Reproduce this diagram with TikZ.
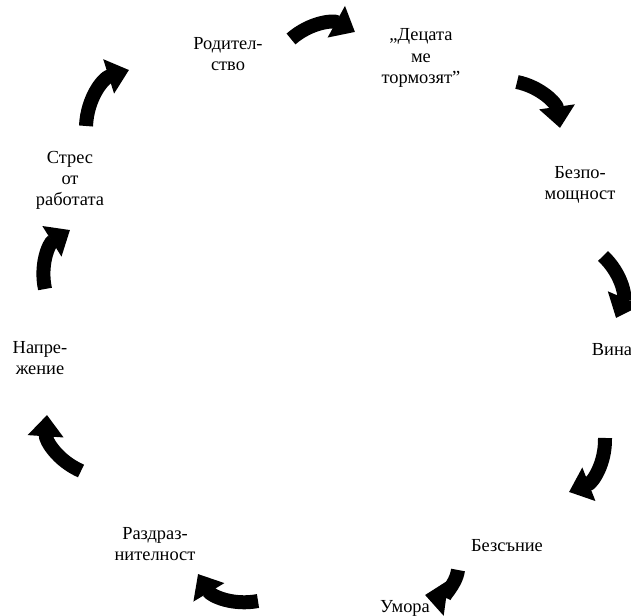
\documentclass[tikz,border=0pt]{standalone}
\usepackage{fontspec}
\setmainfont{Liberation Serif}
\usepackage{tikz}
\usetikzlibrary{arrows.meta}

\begin{document}
\begin{tikzpicture}[x=0.75pt, y=0.75pt,
    lbl/.style={align=center, font=\fontsize{13.8}{15.8}\selectfont, inner sep=0pt},
    cyc/.style={line width=10.5pt, -{Triangle[width=26pt, length=16pt]}}]
    \useasboundingbox (0,0) rectangle (631,616);

    \node[lbl] (rod)   at (228,562) {Родител-\\ство};
    \node[lbl] (dec)   at (421,558) {„Децата\\ме\\тормозят”};
    \node[lbl] (bez)   at (580,431) {Безпо-\\мощност};
    \node[lbl] (vina)  at (612,266) {Вина};
    \node[lbl] (bezs)  at (507,70)  {Безсъние};
    \node[lbl] (umora) at (405,8)   {Умора};
    \node[lbl] (razd)  at (155,72)  {Раздраз-\\нителност};
    \node[lbl] (nap)   at (40,258)  {Напре-\\жение};
    \node[lbl] (stres) at (70,436)  {Стрес\\от\\работата};

    \foreach \i/\xa/\ya/\xb/\yb/\b in {1/291/577/355/584/35, 2/517/534/560/488/35,
        3/603/360/616/298/35, 4/605/178/569/124/35, 5/458/46/425/21/45,
        6/258/15/198/42/35, 7/81/145/47/201/35, 8/45/327/70/386/35, 9/86/490/129/546/35} {
        \coordinate (a\i) at (\xa,\ya);
        \coordinate (b\i) at (\xb,\yb);
        \draw[cyc] (a\i) to[bend left=\b] (b\i);
    }
\end{tikzpicture}
\end{document}
